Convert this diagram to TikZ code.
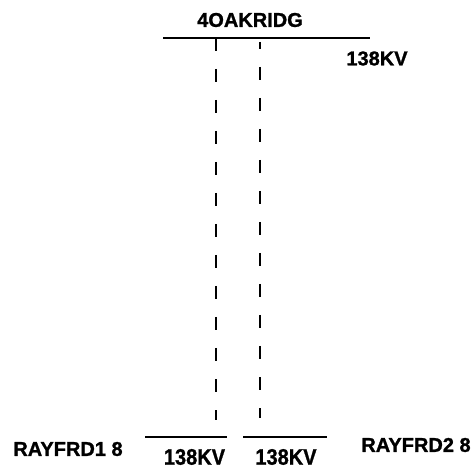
\documentclass[tikz,border=0pt]{standalone}
\usepackage{fontspec}
\setmainfont{Liberation Sans}
\newfontfamily\heavyfont{Liberation Sans Bold}[FakeBold=1.2]
\begin{document}
\begin{tikzpicture}[x=1pt,y=-1pt,
  bus/.style={line width=2pt},
  tie/.style={line width=2pt,dash pattern=on 13pt off 18pt},
  lbl/.style={inner sep=0pt,font=\heavyfont\fontsize{20}{22}\selectfont}]
\useasboundingbox (0,0) rectangle (474,470);
% buses
\coordinate (ta) at (163,38);
\coordinate (tb) at (370,38);
\coordinate (la) at (145,437);
\coordinate (lb) at (227,437);
\coordinate (ra) at (243,437);
\coordinate (rb) at (327,437);
\draw[bus] (ta) -- (tb);
\draw[bus] (la) -- (lb);
\draw[bus] (ra) -- (rb);
% ties
\coordinate (d1a) at (216,38);
\coordinate (d1b) at (216,420);
\coordinate (d2a) at (260,42);
\coordinate (d2b) at (260,418);
\draw[tie] (d1a) -- (d1b);
\draw[tie,dash phase=6pt] (d2a) -- (d2b);
% labels
\node[lbl] (n1) at (250,20) {4OAKRIDG};
\node[lbl] (n2) at (377,58.5) {138KV};
\node[lbl] (n3) at (68,449) {RAYFRD1 8};
\node[lbl,yscale=1.12] (n4) at (194.5,457) {138KV};
\node[lbl,yscale=1.12] (n5) at (286,457) {138KV};
\node[lbl] (n6) at (416,445) {RAYFRD2 8};
\end{tikzpicture}
\end{document}
